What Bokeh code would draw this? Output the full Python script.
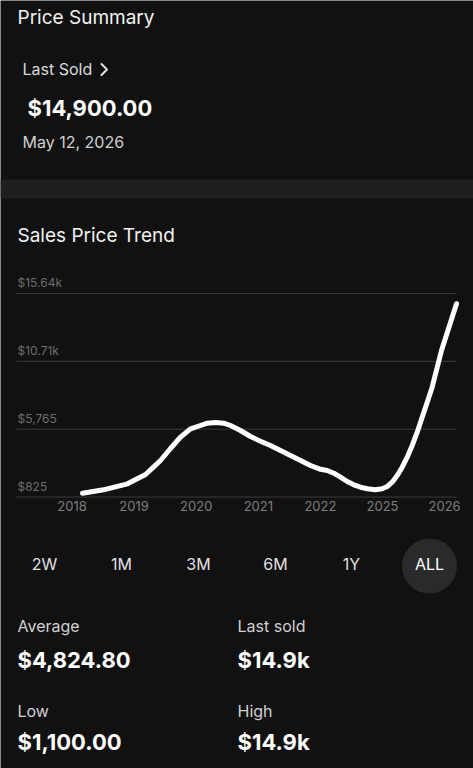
from bokeh.plotting import figure
from bokeh.models import Range1d
from bokeh.core.properties import value
from bokeh.embed import file_html
from bokeh.resources import INLINE

# ---------------- data ----------------
x_ticks = [0, 1, 2, 3, 4, 5, 6]
x_labels = ["2018", "2019", "2020", "2021", "2022", "2025", "2026"]
y_ticks = [825, 5765, 10705, 15645]
y_labels = ["$825", "$5,765", "$10.71k", "$15.64k"]

# position along the time axis (1 unit = one year label) and sale price
trend_pos = [0.169, 0.507, 0.894, 1.184, 1.312, 1.425, 1.586, 1.747, 1.908, 2.069,
             2.177, 2.311, 2.444, 2.552, 2.713, 2.874, 3.035, 3.196, 3.357, 3.519,
             3.680, 3.841, 4.002, 4.110, 4.216, 4.324, 4.432, 4.538, 4.646, 4.754,
             4.887, 4.995, 5.076, 5.156, 5.237, 5.317, 5.398, 5.478, 5.559, 5.639,
             5.720, 5.800, 5.950, 6.192]
trend_price = [1100, 1349, 1786, 2464, 2995, 3483, 4357, 5180, 5792, 6032,
               6200, 6251, 6200, 6032, 5668, 5231, 4889, 4576, 4212, 3847,
               3483, 3119, 2842, 2755, 2558, 2267, 1954, 1714, 1539, 1422,
               1349, 1422, 1590, 1903, 2391, 2995, 3724, 4576, 5544, 6637,
               7729, 8822, 11494, 14900]

last_sold_price = "$14,900.00"
last_sold_date = "May 12, 2026"
periods = ["2W", "1M", "3M", "6M", "1Y", "ALL"]
stat_names = ["Average", "Last sold", "Low", "High"]
stat_values = ["$4,824.80", "$14.9k", "$1,100.00", "$14.9k"]

# ---------------- style / layout ----------------
FONT = "Inter"
BG = "#111111"
W, H = 473, 768
PX0, PX1, PY0, PY1 = 0, W, 0, H   # page-pixel frame of the figure

p = figure(width=W, height=H, x_range=Range1d(PX0, PX1), y_range=Range1d(PY1, PY0),
           output_backend="svg", toolbar_location=None, min_border=0,
           x_axis_location=None, y_axis_location=None,
           background_fill_color=BG, border_fill_color=BG, outline_line_color=None)
p.grid.visible = False

# chart box in page pixels: first tick at x=71.5, 62.1 px per tick;
# lowest grid line at y=496.5, highest at y=293
TX0, TDX = 71.5, 62.1
GY_LO, GY_HI = 496.5, 293.0
per_px = (y_ticks[-1] - y_ticks[0]) / (GY_LO - GY_HI)


def u_of(px):
    return (px - TX0) / TDX


def v_of(py):
    return y_ticks[0] + (GY_LO - py) * per_px


p.extra_x_ranges = {"time": Range1d(u_of(PX0), u_of(PX1))}
p.extra_y_ranges = {"price": Range1d(v_of(PY1), v_of(PY0))}
CH = dict(x_range_name="time", y_range_name="price")


def txt(x, y, s, size, color, bold=False, align="left"):
    p.text(x=[x], y=[y], text=[s], text_font=value(FONT), text_font_size=f"{size}px",
           text_color=color, text_baseline="alphabetic", text_align=align,
           text_font_style="bold" if bold else "normal")


# ---------------- header ----------------
txt(17, 17, "Price Summary", 19, "#f2f2f2")
txt(22, 68, "Last Sold", 16, "#d9d9d9")
p.line(x=[101, 106.5, 101], y=[63.5, 69, 74.5], line_color="#e6e6e6", line_width=2,
       line_cap="round", line_join="round")
txt(27, 107, last_sold_price, 22, "#ffffff", bold=True)
txt(22, 141.5, last_sold_date, 16, "#d0d0d0")
p.quad(left=[PX0], right=[PX1], top=[179], bottom=[198], fill_color="#1f1f1f", line_color=None)
txt(17, 235, "Sales Price Trend", 19, "#f2f2f2")

# ---------------- chart ----------------
gx0, gx1 = u_of(16), u_of(456)
p.segment(x0=[gx0] * len(y_ticks), x1=[gx1] * len(y_ticks), y0=y_ticks, y1=y_ticks,
          line_color="#3a3a3a", line_width=1, **CH)
p.text(x=[gx0] * len(y_ticks), y=y_ticks, text=y_labels, x_offset=1, y_offset=-11,
       text_baseline="alphabetic", text_align="left", text_font=value(FONT),
       text_font_size="12px", text_color="#6e6e6e", **CH)
p.text(x=x_ticks, y=[y_ticks[0]] * len(x_ticks), text=x_labels, y_offset=9,
       text_baseline="alphabetic", text_align="center", text_font=value(FONT),
       text_font_size="13px", text_color="#7d7d7d", **CH)
p.line(trend_pos, trend_price, line_color="#ffffff", line_width=5,
       line_cap="round", line_join="round", **CH)

# ---------------- footer ----------------
btn_x = [44, 121, 198, 275, 351, 429]
p.scatter(x=[btn_x[-1]], y=[565.5], size=55, marker="circle",
          fill_color="#2a2a2a", line_color=None)
for bx, lab in zip(btn_x, periods):
    txt(bx, 563.5, lab, 16, "#ffffff" if lab == "ALL" else "#e0e0e0", align="center")

stat_x = [17, 237, 17, 237]
name_y = [625.5, 625.5, 710.5, 710.5]
val_y = [659.5, 659.5, 741.5, 741.5]
for sx, ny, vy, nm, vl in zip(stat_x, name_y, val_y, stat_names, stat_values):
    txt(sx, ny, nm, 16, "#d0d0d0")
    txt(sx, vy, vl, 22, "#ffffff", bold=True)

open("out.html", "w").write(file_html(p, INLINE))
